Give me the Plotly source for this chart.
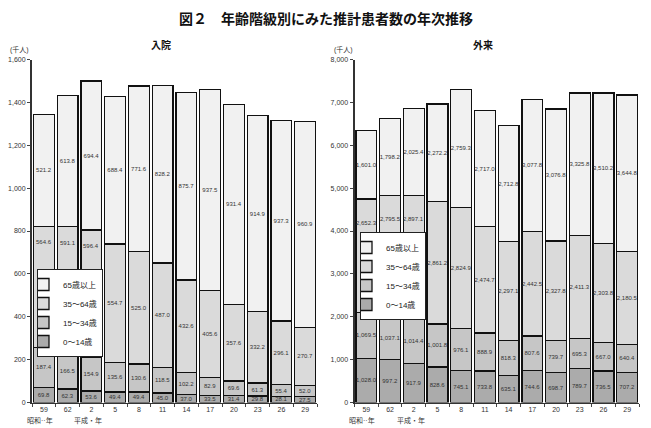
import plotly.graph_objects as go

years = ["59", "62", "2", "5", "8", "11", "14", "17", "20", "23", "26", "29"]
age_groups = ["0～14歳", "15～34歳", "35～64歳", "65歳以上"]

# 入院 (千人)
in_0_14 = [69.8, 62.3, 53.6, 49.4, 49.4, 45.0, 37.0, 33.5, 31.4, 29.8, 28.1, 27.5]
in_15_34 = [187.4, 166.5, 154.9, 135.6, 130.6, 118.5, 102.2, 82.9, 69.6, 61.3, 55.4, 52.0]
in_35_64 = [564.6, 591.1, 596.4, 554.7, 525.0, 487.0, 432.6, 405.6, 357.6, 332.2, 296.1, 270.7]
in_65 = [521.2, 613.8, 694.4, 688.4, 771.6, 828.2, 875.7, 937.5, 931.4, 914.9, 937.3, 960.9]

# 外来 (千人)
out_0_14 = [1028.0, 997.2, 917.9, 828.6, 745.1, 733.8, 635.1, 744.6, 698.7, 789.7, 736.5, 707.2]
out_15_34 = [1069.5, 1037.1, 1014.4, 1001.8, 976.1, 888.9, 818.3, 807.6, 739.7, 695.3, 667.0, 640.4]
out_35_64 = [2652.3, 2795.5, 2897.1, 2861.2, 2824.9, 2474.7, 2297.1, 2442.5, 2327.8, 2411.3, 2303.8, 2180.5]
out_65 = [1601.0, 1798.2, 2025.4, 2272.2, 2759.3, 2717.0, 2712.8, 3077.8, 3076.8, 3325.8, 3510.2, 3644.8]

colors = ["#ababab", "#c6c6c6", "#dadada", "#f1f1f1"]
FONT = "Liberation Sans, Noto Sans CJK JP"
LABEL_FONT = dict(size=6, color="#333333", family=FONT)

# bars whose 35-64 label sits near the top of its segment (clear of the legend)
moved = [0, 1, 2]

fig = go.Figure()

def add_series(vals, xa, ya, legend, fmt, offset):
    for k, (name, v, c) in enumerate(zip(age_groups, vals, colors)):
        labels = [fmt.format(val) for val in v]
        if k == 2:
            labels = ["" if i in moved else s for i, s in enumerate(labels)]
        fig.add_trace(go.Bar(
            x=years, y=v, name=name, xaxis=xa, yaxis=ya, legend=legend,
            marker=dict(color=c, line=dict(color="#111111", width=1.3)),
            text=labels, texttemplate="%{text}", textposition="inside",
            insidetextanchor="middle", textangle=0, textfont=LABEL_FONT,
            hoverinfo="skip",
        ))
    anns = []
    for i in moved:
        top = vals[0][i] + vals[1][i] + vals[2][i]
        anns.append(dict(text=fmt.format(vals[2][i]), x=i, y=top - offset,
                         xref=xa, yref=ya, showarrow=False, font=LABEL_FONT,
                         xanchor="center", yanchor="middle"))
    return anns

bar_anns = add_series([in_0_14, in_15_34, in_35_64, in_65], "x", "y", "legend", "{:.1f}", 75)
bar_anns += add_series([out_0_14, out_15_34, out_35_64, out_65], "x2", "y2", "legend2", "{:,.1f}", 560)

y0 = 1 - 402.5 / 428
y1 = 1 - 59.5 / 428

xcommon = dict(type="category", tickson="boundaries", ticks="outside", ticklen=3,
               tickcolor="#444", showline=True, linecolor="#333", linewidth=1.5,
               tickfont=dict(size=7, color="#333", family=FONT), showgrid=False,
               range=[-0.5, 11.5], fixedrange=True, automargin=False)
ycommon = dict(ticks="outside", ticklen=3, tickcolor="#444", showline=True,
               linecolor="#333", linewidth=2, tickformat=",d",
               tickfont=dict(size=7, color="#333", family=FONT), showgrid=False,
               zeroline=False, domain=[y0, y1], automargin=False, fixedrange=True)

legend_common = dict(xanchor="left", yanchor="top", traceorder="reversed",
                     bgcolor="white", bordercolor="#222", borderwidth=1,
                     font=dict(size=8, family=FONT, color="#222"),
                     itemwidth=30, tracegroupgap=0, indentation=-15)

fig.update_layout(
    width=651, height=428, margin=dict(l=0, r=0, t=0, b=0, autoexpand=False),
    paper_bgcolor="white", plot_bgcolor="white",
    barmode="stack", bargap=0.12, showlegend=True,
    font=dict(family=FONT, color="#222"),
    uniformtext=dict(minsize=6, mode="show"),
    xaxis=dict(domain=[32 / 651, 317 / 651], anchor="y", **xcommon),
    yaxis=dict(range=[0, 1600], dtick=200, anchor="x", **ycommon),
    xaxis2=dict(domain=[354.5 / 651, 639 / 651], anchor="y2", **xcommon),
    yaxis2=dict(range=[0, 8000], dtick=1000, anchor="x2", **ycommon),
    legend=dict(x=37 / 651, y=1 - 269 / 428, **legend_common),
    legend2=dict(x=360 / 651, y=1 - 232 / 428, **legend_common),
)

def note(text, x, y, size, xref="paper", xshift=0, color="#333"):
    return dict(text=text, x=x, y=y, xref=xref, yref="paper", xshift=xshift,
                xanchor="center", yanchor="middle", showarrow=False,
                font=dict(size=size, family=FONT, color=color))

ann = [
    note("<b>図２　年齢階級別にみた推計患者数の年次推移</b>", 0.5, 1 - 19 / 428, 14, color="#111"),
    note("<b>入院</b>", 161 / 651, 1 - 45 / 428, 10, color="#111"),
    note("<b>外来</b>", 483 / 651, 1 - 45 / 428, 10, color="#111"),
    note("(千人)", 19 / 651, 1 - 50 / 428, 7),
    note("(千人)", 343 / 651, 1 - 50 / 428, 7),
    note("昭和··年", 0, 1 - 420 / 428, 7, xref="x", xshift=-4),
    note("平成・年", 2, 1 - 420 / 428, 7, xref="x", xshift=-3),
    note("昭和··年", 0, 1 - 420 / 428, 7, xref="x2", xshift=-4),
    note("平成・年", 2, 1 - 420 / 428, 7, xref="x2", xshift=-3),
]
fig.update_layout(annotations=ann + bar_anns)

fig.write_html("out.html", config={"displayModeBar": False, "staticPlot": True},
               post_script="document.body.style.margin='0';document.body.style.overflow='hidden';")
